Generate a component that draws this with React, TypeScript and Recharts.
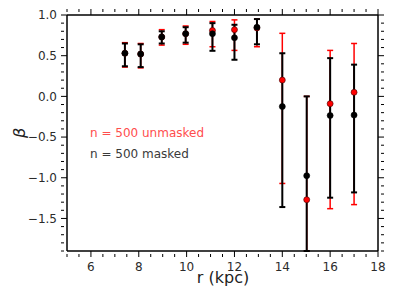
import { ScatterChart, Scatter, XAxis, YAxis, ErrorBar } from 'recharts';

// radius of each bin (kpc)
const R = [7.42, 8.08, 8.96, 9.96, 11.08, 12.0, 12.94, 14.0, 15.02, 16.0, 17.0];

// n = 500 masked (black); the r = 15 bar runs off the bottom of the axes
const MASKED = [0.53, 0.52, 0.73, 0.77, 0.77, 0.72, 0.85, -0.125, -0.975, -0.235, -0.23];
const MASKED_LO = [0.37, 0.36, 0.65, 0.66, 0.56, 0.45, 0.64, -1.36, -1.9, -1.245, -1.18];
const MASKED_HI = [0.65, 0.64, 0.8, 0.85, 0.9, 0.88, 0.95, 0.53, 0.0, 0.47, 0.39];

// n = 500 unmasked (red)
const UNMASKED = [0.53, 0.52, 0.73, 0.77, 0.81, 0.82, 0.84, 0.2, -1.27, -0.09, 0.05];
const UNMASKED_LO = [0.36, 0.35, 0.63, 0.64, 0.61, 0.565, 0.61, -1.07, -1.9, -1.38, -1.33];
const UNMASKED_HI = [0.66, 0.65, 0.82, 0.865, 0.92, 0.94, 0.95, 0.775, 0.0, 0.565, 0.65];

const X_MAJOR = [6, 8, 10, 12, 14, 16, 18];
const Y_MAJOR = [-1.5, -1.0, -0.5, 0.0, 0.5, 1.0];

const X_DOMAIN = [5, 18];
const Y_DOMAIN = [-1.9, 1.0];

// minor ticks every 0.5 on x, every 0.1 on y
const xTicks: number[] = [];
for (let i = 0; i <= 26; i++) xTicks.push(5 + i * 0.5);
const yTicks: number[] = [];
for (let i = 0; i <= 29; i++) yTicks.push(Math.round((-1.9 + i * 0.1) * 10) / 10);

const isMajor = (v: number, list: number[]) => list.some((m) => Math.abs(m - v) < 1e-6);

const build = (vals: number[], lo: number[], hi: number[]) =>
  R.map((r, i) => ({ r, b: vals[i], err: [vals[i] - lo[i], hi[i] - vals[i]] }));

const redData = build(UNMASKED, UNMASKED_LO, UNMASKED_HI);
const blackData = build(MASKED, MASKED_LO, MASKED_HI);

const FONT = 'DejaVu Sans';
const TICK_COLOR = '#2b2b2b';
const MAJOR_LEN = 6;
const MINOR_LEN = 3;

const fmtY = (v: number) => v.toFixed(1).replace('-', '\u2212');

const BottomTick = ({ x, y, payload }: any) => {
  const major = isMajor(payload.value, X_MAJOR);
  return (
    <g>
      <line x1={x} y1={y} x2={x} y2={y - (major ? MAJOR_LEN : MINOR_LEN)} stroke="#000" />
      {major && (
        <text x={x} y={y + 14} textAnchor="middle" fontSize={12} fontFamily={FONT} fill={TICK_COLOR}>
          {payload.value}
        </text>
      )}
    </g>
  );
};

const TopTick = ({ x, y, payload }: any) => {
  const major = isMajor(payload.value, X_MAJOR);
  return <line x1={x} y1={y} x2={x} y2={y + (major ? MAJOR_LEN : MINOR_LEN)} stroke="#000" />;
};

const LeftTick = ({ x, y, payload }: any) => {
  const major = isMajor(payload.value, Y_MAJOR);
  return (
    <g>
      <line x1={x} y1={y} x2={x + (major ? MAJOR_LEN : MINOR_LEN)} y2={y} stroke="#000" />
      {major && (
        <text x={x - 4} y={y + 4.4} textAnchor="end" fontSize={12} fontFamily={FONT} fill={TICK_COLOR}>
          {fmtY(payload.value)}
        </text>
      )}
    </g>
  );
};

const RightTick = ({ x, y, payload }: any) => {
  const major = isMajor(payload.value, Y_MAJOR);
  return <line x1={x} y1={y} x2={x - (major ? MAJOR_LEN : MINOR_LEN)} y2={y} stroke="#000" />;
};

const noDot = () => <g />;

const dot = (fill: string, stroke: string) => (props: any) => {
  const { cx, cy } = props;
  if (cx == null || cy == null) return <g />;
  return <circle cx={cx} cy={cy} r={3} fill={fill} stroke={stroke} strokeWidth={0.6} />;
};

const axisLine = { stroke: '#000', strokeWidth: 1.5 };

export default function App() {
  return (
    <div style={{ position: 'absolute', left: 0, top: 0, width: 395, height: 296, background: '#fff' }}>
      <ScatterChart width={395} height={296} margin={{ top: 14, right: 16, bottom: 44, left: 66 }}>
        <XAxis
          type="number"
          dataKey="r"
          domain={X_DOMAIN}
          allowDataOverflow
          ticks={xTicks}
          interval={0}
          height={1}
          tickLine={false}
          tickMargin={0}
          axisLine={axisLine}
          tick={BottomTick}
        />
        <XAxis
          xAxisId="t"
          orientation="top"
          type="number"
          dataKey="r"
          domain={X_DOMAIN}
          allowDataOverflow
          ticks={xTicks}
          interval={0}
          height={1}
          tickLine={false}
          tickMargin={0}
          axisLine={axisLine}
          tick={TopTick}
        />
        <YAxis
          type="number"
          dataKey="b"
          domain={Y_DOMAIN}
          allowDataOverflow
          ticks={yTicks}
          interval={0}
          width={1}
          tickLine={false}
          tickMargin={0}
          axisLine={axisLine}
          tick={LeftTick}
        />
        <YAxis
          yAxisId="rt"
          orientation="right"
          type="number"
          dataKey="b"
          domain={Y_DOMAIN}
          allowDataOverflow
          ticks={yTicks}
          interval={0}
          width={1}
          tickLine={false}
          tickMargin={0}
          axisLine={axisLine}
          tick={RightTick}
        />
        <Scatter data={redData} dataKey="b" shape={noDot} isAnimationActive={false}>
          <ErrorBar dataKey="err" direction="y" width={3} stroke="#ff0000" strokeWidth={1.5} isAnimationActive={false} />
        </Scatter>
        <Scatter data={blackData} dataKey="b" shape={noDot} isAnimationActive={false}>
          <ErrorBar dataKey="err" direction="y" width={3} stroke="#000" strokeWidth={2} isAnimationActive={false} />
        </Scatter>
        <Scatter data={redData} dataKey="b" shape={dot('#ff0000', '#400000')} isAnimationActive={false} />
        <Scatter data={blackData} dataKey="b" shape={dot('#000', '#000')} isAnimationActive={false} />
      </ScatterChart>
      <svg width={395} height={296} style={{ position: 'absolute', left: 0, top: 0, pointerEvents: 'none' }}>
        <text x={90} y={137} fontSize={12} fontFamily={FONT} fill="#ff4d4d">n = 500 unmasked</text>
        <text x={90} y={158} fontSize={12} fontFamily={FONT} fill="#3a3a3a">n = 500 masked</text>
        <text x={223} y={283} textAnchor="middle" fontSize={16} fontFamily={FONT} fill="#222">r (kpc)</text>
        <text
          x={19}
          y={133}
          textAnchor="middle"
          dominantBaseline="central"
          fontSize={16}
          fontStyle="italic"
          fontFamily={FONT}
          fill="#222"
          transform="rotate(-90 19 133)"
        >
          β
        </text>
      </svg>
    </div>
  );
}
